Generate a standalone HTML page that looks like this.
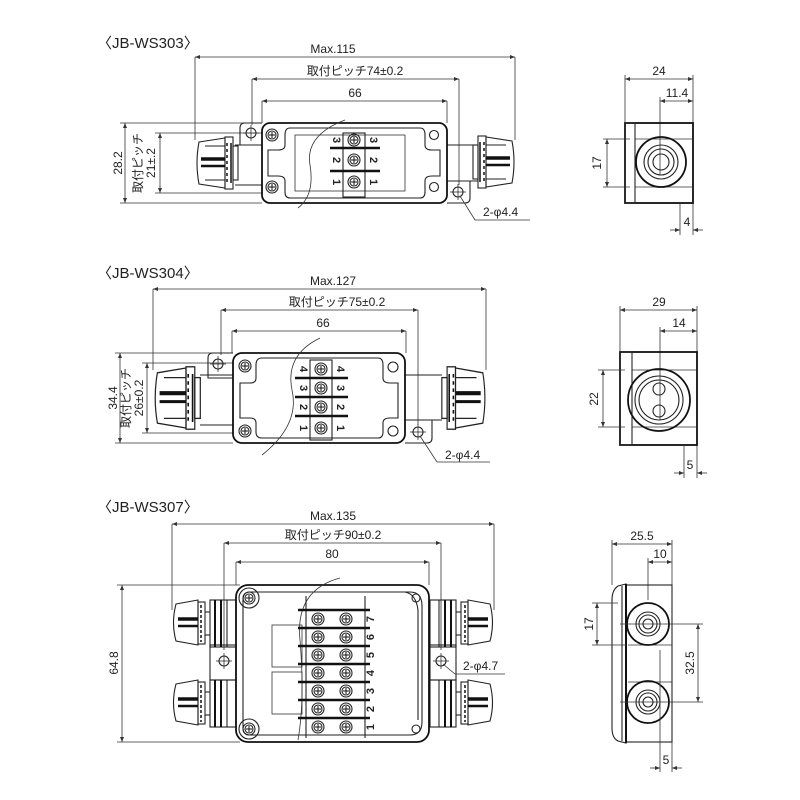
<!DOCTYPE html>
<html><head><meta charset="utf-8">
<style>
html,body{margin:0;padding:0;background:#fff;width:800px;height:800px;overflow:hidden}
svg{display:block}
text{font-family:"Liberation Sans","Noto Sans CJK JP",sans-serif;fill:#222}
.d{stroke:#333;stroke-width:0.8;fill:none}
.a{stroke:#333;stroke-width:0.8;fill:none;marker-start:url(#ma);marker-end:url(#ma)}
.b{stroke:#111;stroke-width:1.8;fill:none}
.m{stroke:#222;stroke-width:1.1;fill:none}
.t{font-size:12px}
.ti{font-size:15px}
</style></head><body>
<svg width="800" height="800" viewBox="0 0 800 800" xmlns="http://www.w3.org/2000/svg">
<defs>
<marker id="ma" viewBox="0 0 10 10" refX="10" refY="5" markerWidth="7" markerHeight="5" orient="auto-start-reverse" markerUnits="userSpaceOnUse"><path d="M0,1 L10,5 L0,9 z" fill="#333"/></marker>
<g id="gl">
 <path d="M4,4 L30,0 L30,50 L4,46 Q0,25 4,4 z" class="m" fill="#fff"/>
 <rect x="30" y="-1" width="8" height="52" class="m" fill="#fff"/>
 <rect x="38" y="8" width="5" height="34" class="m" fill="#fff"/>
 <line x1="6" y1="21" x2="30" y2="21" stroke="#111" stroke-width="3.5"/>
 <line x1="6" y1="28" x2="30" y2="28" stroke="#111" stroke-width="2.5"/>
 <line x1="10" y1="8" x2="30" y2="8" class="m"/><line x1="10" y1="42" x2="30" y2="42" class="m"/>
 <line x1="32" y1="5" x2="32" y2="45" stroke="#111" stroke-width="1.5" stroke-dasharray="3,3"/>
 <line x1="36" y1="5" x2="36" y2="45" stroke="#111" stroke-width="1.5"/>
</g>
<g id="scr"><circle r="6" class="m" fill="#fff"/><circle r="4" class="m"/><line x1="-3" y1="0" x2="3" y2="0" class="m"/><line x1="0" y1="-3" x2="0" y2="3" class="m"/></g>
<g id="hole"><circle r="5" class="m" fill="#fff"/><line x1="-8" y1="0" x2="8" y2="0" class="d"/><line x1="0" y1="-8" x2="0" y2="8" class="d"/></g>
</defs>

<!-- ============ WS303 ============ -->
<text x="97" y="48" class="ti">〈JB-WS303〉</text>
<line x1="195" y1="57" x2="515" y2="57" class="a"/>
<line x1="195" y1="57" x2="195" y2="140" class="d"/><line x1="515" y1="57" x2="515" y2="140" class="d"/>
<text x="333" y="53" class="t" text-anchor="middle">Max.115</text>
<line x1="252" y1="79" x2="459" y2="79" class="a"/>
<line x1="252" y1="79" x2="252" y2="125" class="d"/><line x1="459" y1="79" x2="459" y2="185" class="d"/>
<text x="355" y="75" class="t" text-anchor="middle">取付ピッチ74±0.2</text>
<line x1="262" y1="101" x2="447" y2="101" class="a"/>
<line x1="262" y1="101" x2="262" y2="123" class="d"/><line x1="447" y1="101" x2="447" y2="123" class="d"/>
<text x="355" y="97" class="t" text-anchor="middle">66</text>
<line x1="125" y1="123" x2="125" y2="203" class="a"/>
<line x1="120" y1="123" x2="262" y2="123" class="d"/><line x1="120" y1="203" x2="262" y2="203" class="d"/>
<text transform="translate(122,163) rotate(-90)" class="t" text-anchor="middle">28.2</text>
<line x1="160" y1="133" x2="160" y2="193" class="a"/>
<line x1="155" y1="133" x2="262" y2="133" class="d"/><line x1="155" y1="193" x2="262" y2="193" class="d"/>
<text transform="translate(142,163) rotate(-90)" class="t" text-anchor="middle">取付ピッチ</text>
<text transform="translate(155,163) rotate(-90)" class="t" text-anchor="middle">21±.2</text>
<path d="M262,123 L245,123 Q240,123 240,128 L240,145 L262,145" class="m" fill="#fff"/>
<use href="#hole" x="251" y="133"/>
<path d="M447,181 L470,181 L470,198 Q470,203 465,203 L447,203" class="m" fill="#fff"/>
<use href="#hole" x="458" y="192"/>
<line x1="235" y1="145" x2="262" y2="145" class="m"/><line x1="235" y1="185" x2="262" y2="185" class="m"/>
<line x1="447" y1="145" x2="478" y2="145" class="m"/><line x1="447" y1="181" x2="478" y2="181" class="m"/>
<use href="#gl" transform="translate(195,138)"/>
<use href="#gl" transform="translate(516,137) scale(-1,1)"/>
<rect x="262" y="123" width="185" height="80" rx="8" class="b" fill="#fff"/>
<path d="M290,128 L420,128 Q425,128 425,135 L425,145 Q425,150 432,150 L440,150 L440,176 L432,176 Q425,176 425,181 L425,192 Q425,198 420,198 L290,198 Q285,198 285,192 L285,181 Q285,176 278,176 L268,176 L268,150 L278,150 Q285,150 285,145 L285,135 Q285,128 290,128 z" class="m"/>
<rect x="295" y="135" width="110" height="56" class="d"/>
<use href="#scr" x="272" y="135"/><use href="#scr" x="272" y="187"/>
<circle cx="434" cy="135" r="4.5" class="m"/><circle cx="434" cy="187" r="4.5" class="m"/>
<path d="M345,120 Q305,135 310,165 Q315,195 298,208" class="d"/>
<rect x="343" y="133" width="22" height="64" class="m" fill="#fff"/>
<line x1="330" y1="148" x2="380" y2="148" stroke="#111" stroke-width="2.5"/>
<line x1="330" y1="171" x2="380" y2="171" stroke="#111" stroke-width="2.5"/>
<use href="#scr" x="354" y="140"/><use href="#scr" x="354" y="160"/><use href="#scr" x="354" y="182"/>
<g font-size="11" font-weight="bold">
<text transform="translate(333,140) rotate(90)" text-anchor="middle">3</text>
<text transform="translate(333,160) rotate(90)" text-anchor="middle">2</text>
<text transform="translate(333,182) rotate(90)" text-anchor="middle">1</text>
<text transform="translate(370,140) rotate(90)" text-anchor="middle">3</text>
<text transform="translate(370,160) rotate(90)" text-anchor="middle">2</text>
<text transform="translate(370,182) rotate(90)" text-anchor="middle">1</text>
</g>
<polyline points="460,196 475,220 530,220" class="d"/>
<text x="483" y="216" class="t">2-φ4.4</text>
<line x1="625" y1="79" x2="693" y2="79" class="a"/>
<line x1="625" y1="75" x2="625" y2="123" class="d"/><line x1="693" y1="75" x2="693" y2="235" class="d"/>
<text x="659" y="75" class="t" text-anchor="middle">24</text>
<line x1="660" y1="101" x2="693" y2="101" class="a"/><line x1="660" y1="97" x2="660" y2="175" class="d"/>
<text x="677" y="97" class="t" text-anchor="middle">11.4</text>
<rect x="625" y="123" width="68" height="80" class="b" fill="#fff"/>
<rect x="625" y="123" width="10" height="80" class="m"/>
<line x1="635" y1="139" x2="693" y2="139" class="d"/><line x1="635" y1="187" x2="693" y2="187" class="d"/>
<circle cx="661" cy="162" r="25" class="b" fill="#fff"/><circle cx="661" cy="162" r="17" class="m"/><circle cx="661" cy="162" r="13" class="m"/><circle cx="661" cy="162" r="8" class="m"/>
<line x1="607" y1="139" x2="607" y2="187" class="a"/>
<line x1="603" y1="139" x2="630" y2="139" class="d"/><line x1="603" y1="187" x2="630" y2="187" class="d"/>
<text transform="translate(601,163) rotate(-90)" class="t" text-anchor="middle">17</text>
<line x1="680" y1="203" x2="680" y2="235" class="d"/>
<line x1="670" y1="230" x2="680" y2="230" class="d" marker-end="url(#ma)"/><line x1="703" y1="230" x2="693" y2="230" class="d" marker-end="url(#ma)"/>
<text x="687" y="226" class="t" text-anchor="middle">4</text>

<!-- ============ WS304 ============ -->
<text x="97" y="278" class="ti">〈JB-WS304〉</text>
<line x1="153" y1="289" x2="486" y2="289" class="a"/>
<line x1="153" y1="289" x2="153" y2="370" class="d"/><line x1="486" y1="289" x2="486" y2="370" class="d"/>
<text x="333" y="285" class="t" text-anchor="middle">Max.127</text>
<line x1="221" y1="310" x2="418" y2="310" class="a"/>
<line x1="221" y1="310" x2="221" y2="355" class="d"/><line x1="418" y1="310" x2="418" y2="425" class="d"/>
<text x="337" y="306" class="t" text-anchor="middle">取付ピッチ75±0.2</text>
<line x1="232" y1="331" x2="406" y2="331" class="a"/>
<line x1="232" y1="331" x2="232" y2="353" class="d"/><line x1="406" y1="331" x2="406" y2="353" class="d"/>
<text x="323" y="327" class="t" text-anchor="middle">66</text>
<line x1="120" y1="353" x2="120" y2="443" class="a"/>
<line x1="115" y1="353" x2="233" y2="353" class="d"/><line x1="115" y1="443" x2="233" y2="443" class="d"/>
<text transform="translate(117,398) rotate(-90)" class="t" text-anchor="middle">34.4</text>
<line x1="147" y1="363" x2="147" y2="433" class="a"/>
<line x1="142" y1="363" x2="233" y2="363" class="d"/><line x1="142" y1="433" x2="233" y2="433" class="d"/>
<text transform="translate(130,398) rotate(-90)" class="t" text-anchor="middle">取付ピッチ</text>
<text transform="translate(143,398) rotate(-90)" class="t" text-anchor="middle">26±0.2</text>
<path d="M233,353 L213,353 Q208,353 208,358 L208,378 L233,378" class="m" fill="#fff"/>
<use href="#hole" x="218" y="364"/>
<path d="M405,420 L432,420 L432,438 Q432,443 427,443 L405,443" class="m" fill="#fff"/>
<use href="#hole" x="418" y="432"/>
<line x1="200" y1="375" x2="233" y2="375" class="m"/><line x1="200" y1="425" x2="233" y2="425" class="m"/>
<line x1="405" y1="375" x2="442" y2="375" class="m"/><line x1="405" y1="420" x2="442" y2="420" class="m"/>
<use href="#gl" transform="translate(153,368) scale(1.1,1.2)"/>
<use href="#gl" transform="translate(487,368) scale(-1.05,1.2)"/>
<rect x="233" y="353" width="172" height="90" rx="9" class="b" fill="#fff"/>
<path d="M262,358 L378,358 Q383,358 383,365 L383,378 Q383,383 390,383 L398,383 L398,418 L390,418 Q383,418 383,423 L383,432 Q383,438 378,438 L262,438 Q256,438 256,432 L256,423 Q256,418 250,418 L240,418 L240,383 L250,383 Q256,383 256,378 L256,365 Q256,358 262,358 z" class="m"/>
<use href="#scr" x="245" y="366"/><use href="#scr" x="245" y="431"/>
<circle cx="393" cy="367" r="5" class="m"/><circle cx="393" cy="431" r="5" class="m"/>
<path d="M320,338 Q285,355 292,390 Q300,425 262,455" class="d"/>
<rect x="310" y="360" width="22" height="80" class="m" fill="#fff"/>
<line x1="295" y1="378" x2="348" y2="378" stroke="#111" stroke-width="2.5"/>
<line x1="295" y1="397" x2="348" y2="397" stroke="#111" stroke-width="2.5"/>
<line x1="295" y1="416" x2="348" y2="416" stroke="#111" stroke-width="2.5"/>
<use href="#scr" x="321" y="369"/><use href="#scr" x="321" y="388"/><use href="#scr" x="321" y="407"/><use href="#scr" x="321" y="428"/>
<g font-size="11" font-weight="bold">
<text transform="translate(300,369) rotate(90)" text-anchor="middle">4</text>
<text transform="translate(300,388) rotate(90)" text-anchor="middle">3</text>
<text transform="translate(300,407) rotate(90)" text-anchor="middle">2</text>
<text transform="translate(300,428) rotate(90)" text-anchor="middle">1</text>
<text transform="translate(337,369) rotate(90)" text-anchor="middle">4</text>
<text transform="translate(337,388) rotate(90)" text-anchor="middle">3</text>
<text transform="translate(337,407) rotate(90)" text-anchor="middle">2</text>
<text transform="translate(337,428) rotate(90)" text-anchor="middle">1</text>
</g>
<polyline points="420,436 437,462 490,462" class="d"/>
<text x="445" y="459" class="t">2-φ4.4</text>
<line x1="620" y1="310" x2="697" y2="310" class="a"/>
<line x1="620" y1="306" x2="620" y2="352" class="d"/><line x1="697" y1="306" x2="697" y2="478" class="d"/>
<text x="659" y="306" class="t" text-anchor="middle">29</text>
<line x1="660" y1="331" x2="697" y2="331" class="a"/><line x1="660" y1="327" x2="660" y2="420" class="d"/>
<text x="679" y="327" class="t" text-anchor="middle">14</text>
<rect x="620" y="352" width="77" height="93" class="b" fill="#fff"/>
<rect x="620" y="352" width="12" height="93" class="m"/>
<line x1="632" y1="370" x2="697" y2="370" class="d"/><line x1="632" y1="427" x2="697" y2="427" class="d"/>
<circle cx="659" cy="400" r="31" class="b" fill="#fff"/><circle cx="659" cy="400" r="24" class="m"/><circle cx="659" cy="400" r="20" class="m"/>
<circle cx="659" cy="389" r="6" class="m"/><circle cx="659" cy="411" r="6" class="m"/>
<line x1="603" y1="370" x2="603" y2="427" class="a"/>
<line x1="598" y1="370" x2="625" y2="370" class="d"/><line x1="598" y1="427" x2="625" y2="427" class="d"/>
<text transform="translate(598,399) rotate(-90)" class="t" text-anchor="middle">22</text>
<line x1="684" y1="445" x2="684" y2="478" class="d"/>
<line x1="674" y1="473" x2="684" y2="473" class="d" marker-end="url(#ma)"/><line x1="707" y1="473" x2="697" y2="473" class="d" marker-end="url(#ma)"/>
<text x="690" y="469" class="t" text-anchor="middle">5</text>

<!-- ============ WS307 ============ -->
<text x="97" y="512" class="ti">〈JB-WS307〉</text>
<line x1="172" y1="524" x2="494" y2="524" class="a"/>
<line x1="172" y1="524" x2="172" y2="610" class="d"/><line x1="494" y1="524" x2="494" y2="610" class="d"/>
<text x="333" y="520" class="t" text-anchor="middle">Max.135</text>
<line x1="224" y1="543" x2="441" y2="543" class="a"/>
<line x1="224" y1="543" x2="224" y2="650" class="d"/><line x1="441" y1="543" x2="441" y2="650" class="d"/>
<text x="333" y="539" class="t" text-anchor="middle">取付ピッチ90±0.2</text>
<line x1="236" y1="562" x2="429" y2="562" class="a"/>
<line x1="236" y1="562" x2="236" y2="585" class="d"/><line x1="429" y1="562" x2="429" y2="585" class="d"/>
<text x="332" y="558" class="t" text-anchor="middle">80</text>
<line x1="122" y1="585" x2="122" y2="742" class="a"/>
<line x1="117" y1="585" x2="240" y2="585" class="d"/><line x1="117" y1="742" x2="240" y2="742" class="d"/>
<text transform="translate(118,663) rotate(-90)" class="t" text-anchor="middle">64.8</text>
<rect x="210" y="645" width="26" height="35" class="m" fill="#fff"/><use href="#hole" x="224" y="661"/>
<rect x="430" y="645" width="26" height="35" class="m" fill="#fff"/><use href="#hole" x="441" y="661"/>
<g id="g7">
<rect x="210" y="600" width="26" height="47" class="m" fill="#fff"/>
<line x1="215" y1="600" x2="215" y2="647" stroke="#111" stroke-width="2"/><line x1="221" y1="600" x2="221" y2="647" stroke="#111" stroke-width="2"/><line x1="227" y1="600" x2="227" y2="647" stroke="#111" stroke-width="1"/>
<line x1="205" y1="612" x2="210" y2="612" class="m"/><line x1="205" y1="635" x2="210" y2="635" class="m"/>
<path d="M176,604 L198,600 L198,645 L176,641 Q171,623 176,604 z" class="m" fill="#fff"/>
<rect x="198" y="602" width="7" height="42" class="m" fill="#fff"/>
<line x1="178" y1="619" x2="198" y2="619" stroke="#111" stroke-width="3.5"/><line x1="178" y1="626" x2="198" y2="626" stroke="#111" stroke-width="2.5"/>
<line x1="201" y1="605" x2="201" y2="642" stroke="#111" stroke-width="1.5" stroke-dasharray="3,2"/>
</g>
<use href="#g7" transform="translate(0,80)"/>
<use href="#g7" transform="translate(666,0) scale(-1,1)"/>
<use href="#g7" transform="translate(666,80) scale(-1,1)"/>
<rect x="236" y="585" width="193" height="157" rx="12" class="b" fill="#fff"/>
<path d="M250,592 L410,592 Q422,592 422,606 L422,722 Q422,735 410,735 L250,735 Q243,735 243,728 L243,600 Q243,592 250,592 z" class="m"/>
<path d="M262,592 L405,592 Q416,594 418,610 L418,720" class="m" stroke-width="2"/>
<circle cx="249" cy="598" r="10" class="m" fill="#fff"/><use href="#scr" x="249" y="598"/>
<circle cx="249" cy="729" r="10" class="m" fill="#fff"/><use href="#scr" x="249" y="729"/>
<circle cx="416" cy="598" r="4" class="m"/><circle cx="416" cy="729" r="4" class="m"/>
<rect x="272" y="625" width="30" height="42" class="d"/><rect x="272" y="672" width="30" height="42" class="d"/>
<path d="M340,578 Q295,590 300,640 Q305,700 298,740" class="d"/>
<line x1="306" y1="596" x2="306" y2="738" class="m"/><line x1="365" y1="596" x2="365" y2="738" class="m"/>
<g stroke="#111" stroke-width="2.5">
<line x1="298" y1="610" x2="370" y2="610"/><line x1="298" y1="628" x2="370" y2="628"/><line x1="298" y1="646" x2="370" y2="646"/><line x1="298" y1="664" x2="370" y2="664"/><line x1="298" y1="682" x2="370" y2="682"/><line x1="298" y1="700" x2="370" y2="700"/><line x1="298" y1="718" x2="370" y2="718"/>
</g>
<g>
<use href="#scr" x="318" y="619"/><use href="#scr" x="346" y="619"/>
<use href="#scr" x="318" y="637"/><use href="#scr" x="346" y="637"/>
<use href="#scr" x="318" y="655"/><use href="#scr" x="346" y="655"/>
<use href="#scr" x="318" y="673"/><use href="#scr" x="346" y="673"/>
<use href="#scr" x="318" y="691"/><use href="#scr" x="346" y="691"/>
<use href="#scr" x="318" y="709"/><use href="#scr" x="346" y="709"/>
<use href="#scr" x="318" y="727"/><use href="#scr" x="346" y="727"/>
</g>
<g font-size="11" font-weight="bold">
<text transform="translate(374,619) rotate(-90)" text-anchor="middle">7</text>
<text transform="translate(374,637) rotate(-90)" text-anchor="middle">6</text>
<text transform="translate(374,655) rotate(-90)" text-anchor="middle">5</text>
<text transform="translate(374,673) rotate(-90)" text-anchor="middle">4</text>
<text transform="translate(374,691) rotate(-90)" text-anchor="middle">3</text>
<text transform="translate(374,709) rotate(-90)" text-anchor="middle">2</text>
<text transform="translate(374,727) rotate(-90)" text-anchor="middle">1</text>
</g>
<polyline points="443,664 455,674 505,674" class="d"/>
<text x="463" y="670" class="t">2-φ4.7</text>
<line x1="612" y1="544" x2="672" y2="544" class="a"/>
<line x1="612" y1="540" x2="612" y2="585" class="d"/><line x1="672" y1="540" x2="672" y2="772" class="d"/>
<text x="642" y="540" class="t" text-anchor="middle">25.5</text>
<line x1="648" y1="562" x2="672" y2="562" class="a"/><line x1="648" y1="558" x2="648" y2="600" class="d"/>
<text x="660" y="558" class="t" text-anchor="middle">10</text>
<rect x="626" y="585" width="46" height="157" class="m" fill="#fff"/>
<path d="M626,584 L618,586 Q612,590 612,600 L612,728 Q612,738 618,741 L626,743 z" class="m" fill="#fff"/>
<line x1="622" y1="586" x2="622" y2="741" class="m"/><line x1="626" y1="584" x2="626" y2="743" stroke="#111" stroke-width="2"/>
<line x1="628" y1="645" x2="672" y2="645" class="d"/><line x1="628" y1="682" x2="672" y2="682" class="d"/>
<circle cx="648" cy="624" r="21" class="b" fill="#fff"/><circle cx="648" cy="624" r="12" class="m"/><circle cx="648" cy="624" r="9" class="m"/><circle cx="648" cy="624" r="5" class="m"/>
<circle cx="648" cy="702" r="21" class="b" fill="#fff"/><circle cx="648" cy="702" r="12" class="m"/><circle cx="648" cy="702" r="9" class="m"/><circle cx="648" cy="702" r="5" class="m"/>
<line x1="597" y1="603" x2="597" y2="645" class="a"/>
<line x1="592" y1="603" x2="618" y2="603" class="d"/><line x1="592" y1="645" x2="626" y2="645" class="d"/>
<text transform="translate(593,624) rotate(-90)" class="t" text-anchor="middle">17</text>
<line x1="698" y1="624" x2="698" y2="702" class="a"/>
<line x1="620" y1="624" x2="703" y2="624" class="d"/><line x1="620" y1="702" x2="703" y2="702" class="d"/>
<text transform="translate(694,663) rotate(-90)" class="t" text-anchor="middle">32.5</text>
<line x1="660" y1="650" x2="660" y2="772" class="d"/>
<line x1="650" y1="768" x2="660" y2="768" class="d" marker-end="url(#ma)"/><line x1="682" y1="768" x2="672" y2="768" class="d" marker-end="url(#ma)"/>
<text x="666" y="764" class="t" text-anchor="middle">5</text>
</svg>
</body></html>
